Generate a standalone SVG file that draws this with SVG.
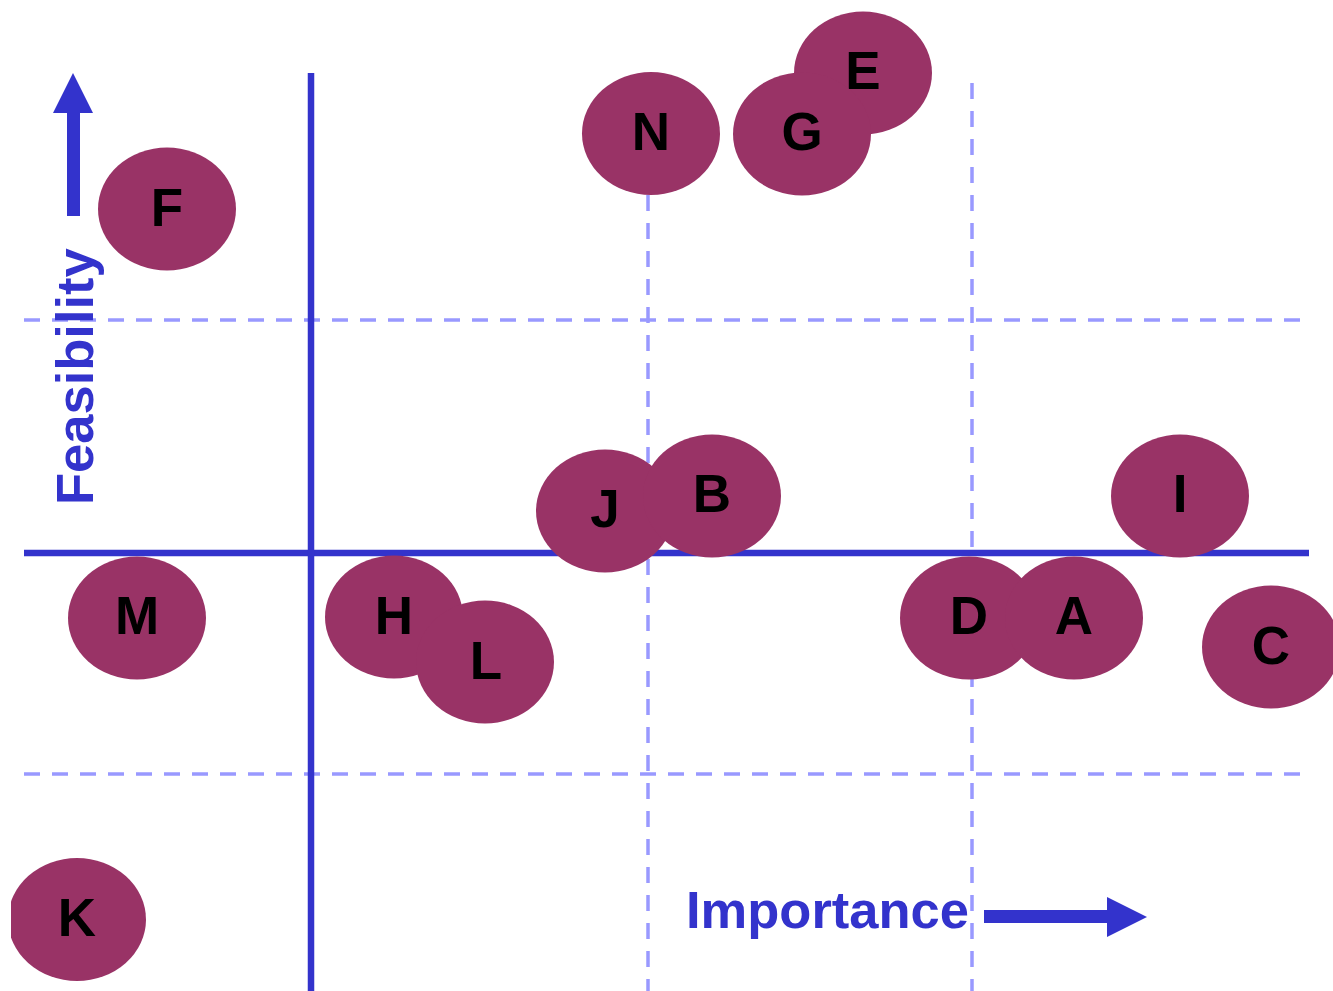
<svg xmlns="http://www.w3.org/2000/svg" width="1333" height="991" viewBox="0 0 1333 991">
  <style>
    .grid { stroke: #9999ff; stroke-width: 3.5; stroke-dasharray: 16 12; fill: none; }
    .axis { stroke: #3333cc; stroke-width: 6.5; fill: none; }
    .arrow { fill: #3333cc; }
    .item ellipse { fill: #993366; }
    .item text { font-family: "Liberation Sans", Arial, sans-serif; font-weight: bold; font-size: 53px; fill: #000000; text-anchor: middle; }
    .label { font-family: "Liberation Sans", Arial, sans-serif; font-weight: bold; font-size: 52.5px; fill: #3333cc; }
  </style>
  <defs>
    <clipPath id="clipLeft">
      <rect x="11" y="0" width="1322" height="991"/>
    </clipPath>
  </defs>
  <rect width="1333" height="991" fill="#ffffff"/>

  <!-- grid and axes -->
  <g id="connectors">
    <line class="grid" x1="24" y1="320" x2="1300" y2="320"/>
    <line class="grid" x1="24" y1="774" x2="1300" y2="774"/>
    <line class="grid" x1="648" y1="195" x2="648" y2="991"/>
    <line class="grid" x1="972" y1="83" x2="972" y2="991"/>
    <line class="axis" x1="24" y1="553" x2="1309" y2="553"/>
    <line class="axis" x1="311" y1="73" x2="311" y2="991"/>
    <!-- feasibility arrow -->
    <rect class="arrow" x="67" y="112" width="13" height="104"/>
    <polygon class="arrow" points="53,113 93,113 73,73"/>
    <!-- importance arrow -->
    <rect class="arrow" x="984" y="910" width="125" height="13"/>
    <polygon class="arrow" points="1107,897 1107,937 1147,917"/>
  </g>

  <text class="label" transform="translate(93,505) rotate(-90)">Feasibility</text>
  <text class="label" x="686" y="928">Importance</text>

  <!-- items -->
  <g id="node-N" class="item"><ellipse cx="651" cy="133.5" rx="69" ry="61.5"/><text x="651" y="150">N</text></g>
  <g id="node-E" class="item"><ellipse cx="863" cy="73" rx="69" ry="61.5"/><text x="863" y="89">E</text></g>
  <g id="node-G" class="item"><ellipse cx="802" cy="134" rx="69" ry="61.5"/><text x="802" y="150">G</text></g>
  <g id="node-F" class="item"><ellipse cx="167" cy="209" rx="69" ry="61.5"/><text x="167" y="226">F</text></g>
  <g id="node-J" class="item"><ellipse cx="605" cy="511" rx="69" ry="61.5"/><text x="605" y="527">J</text></g>
  <g id="node-B" class="item"><ellipse cx="712" cy="496" rx="69" ry="61.5"/><text x="712" y="512">B</text></g>
  <g id="node-I" class="item"><ellipse cx="1180" cy="496" rx="69" ry="61.5"/><text x="1180" y="512">I</text></g>
  <g id="node-M" class="item"><ellipse cx="137" cy="618" rx="69" ry="61.5"/><text x="137" y="634">M</text></g>
  <g id="node-H" class="item"><ellipse cx="394" cy="617" rx="69" ry="61.5"/><text x="394" y="634">H</text></g>
  <g id="node-L" class="item"><ellipse cx="485" cy="662" rx="69" ry="61.5"/><text x="486" y="679">L</text></g>
  <g id="node-D" class="item"><ellipse cx="969" cy="618" rx="69" ry="61.5"/><text x="969" y="634">D</text></g>
  <g id="node-A" class="item"><ellipse cx="1074" cy="618" rx="69" ry="61.5"/><text x="1074" y="634">A</text></g>
  <g id="node-C" class="item"><ellipse cx="1271" cy="647" rx="69" ry="61.5"/><text x="1271" y="664">C</text></g>
  <g id="node-K" class="item" clip-path="url(#clipLeft)"><ellipse cx="77" cy="919.5" rx="69" ry="61.5"/><text x="77" y="936">K</text></g>
</svg>
